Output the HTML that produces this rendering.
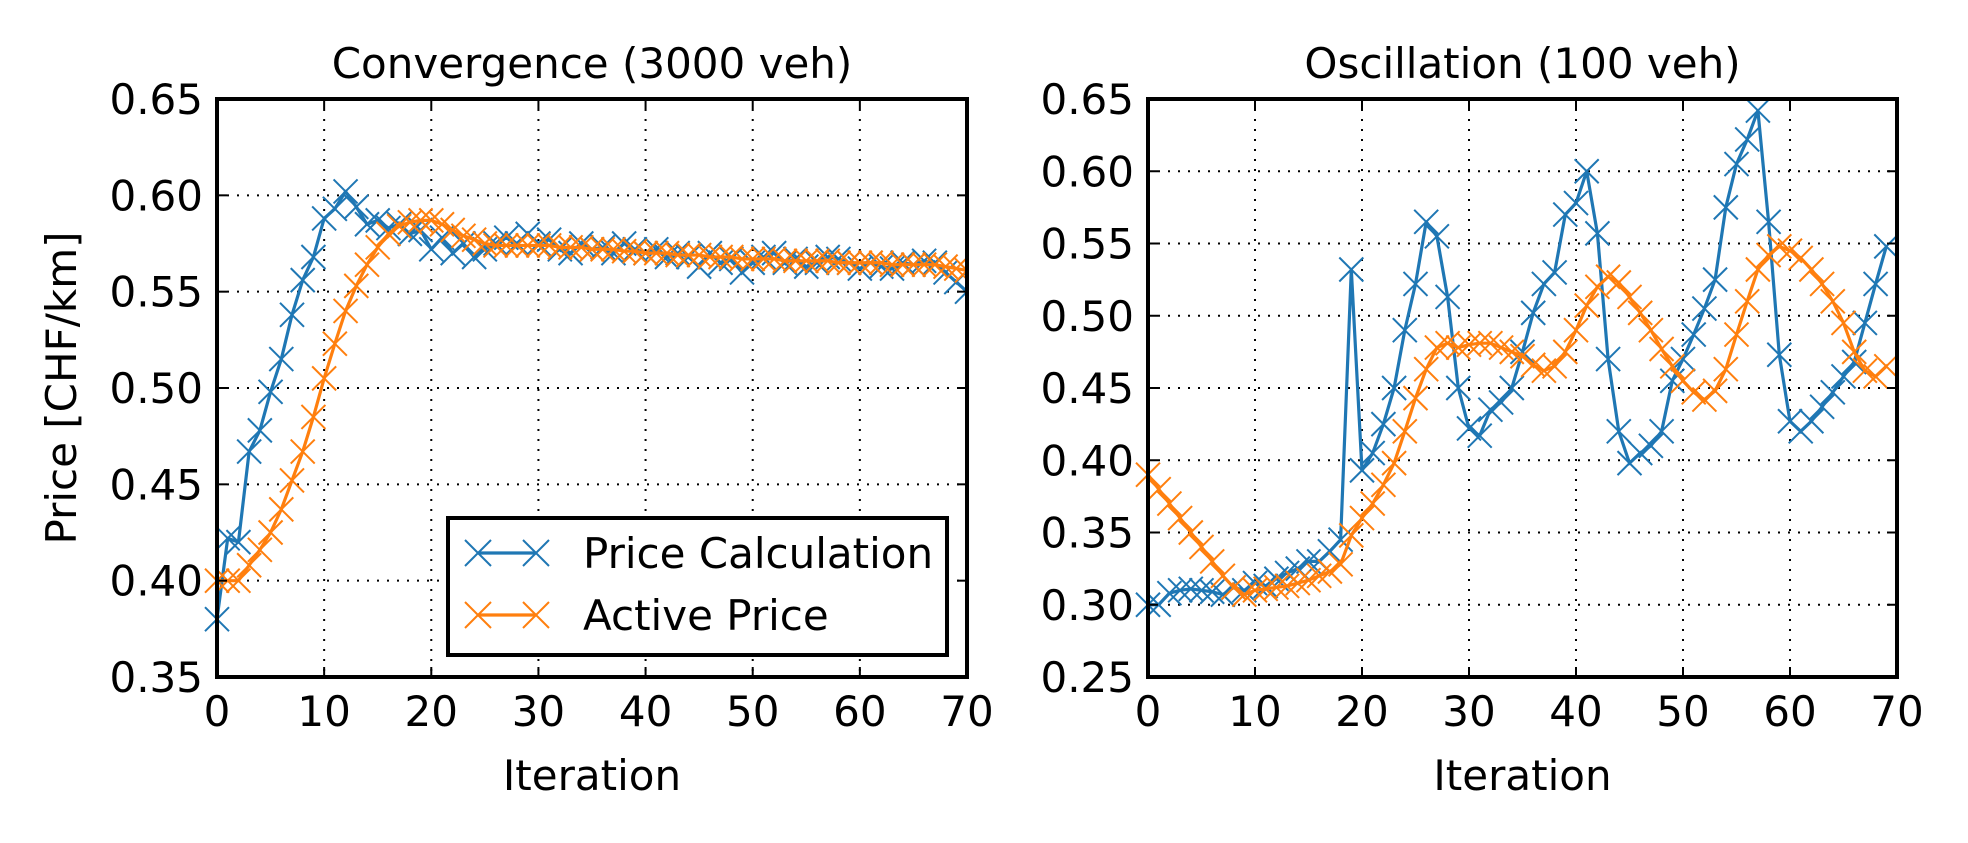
<!DOCTYPE html>
<html><head><meta charset="utf-8"><style>
html,body{margin:0;padding:0;background:#fff;}
svg{display:block;font-family:"DejaVu Sans","Liberation Sans",sans-serif;}
</style></head><body>
<svg id="fig" width="1968" height="843" viewBox="0 0 1968 843" xmlns="http://www.w3.org/2000/svg"></svg>
<script>
const iterations = Array.from({length:71},(_,i)=>i);
const leftCalc = [0.38,0.422,0.42,0.467,0.478,0.498,0.515,0.538,0.556,0.568,0.588,0.593,0.602,0.594,0.585,0.587,0.583,0.585,0.58,0.582,0.572,0.578,0.57,0.575,0.568,0.572,0.575,0.578,0.575,0.58,0.575,0.577,0.572,0.57,0.575,0.572,0.573,0.57,0.575,0.572,0.57,0.572,0.568,0.57,0.568,0.563,0.57,0.565,0.567,0.56,0.565,0.568,0.57,0.565,0.567,0.563,0.565,0.568,0.567,0.565,0.562,0.565,0.563,0.562,0.565,0.564,0.566,0.565,0.56,0.555,0.55];
const leftActive = [0.40,0.40,0.40,0.408,0.416,0.425,0.437,0.452,0.467,0.485,0.505,0.523,0.54,0.553,0.564,0.573,0.58,0.584,0.586,0.587,0.587,0.585,0.582,0.579,0.577,0.575,0.574,0.574,0.574,0.574,0.574,0.574,0.573,0.573,0.573,0.572,0.572,0.572,0.571,0.571,0.570,0.570,0.570,0.569,0.569,0.569,0.568,0.568,0.568,0.567,0.567,0.567,0.567,0.566,0.566,0.566,0.566,0.566,0.565,0.565,0.565,0.565,0.565,0.564,0.564,0.564,0.564,0.564,0.563,0.562,0.561];
const rightCalc = [0.30,0.30,0.308,0.31,0.311,0.31,0.309,0.307,0.312,0.31,0.315,0.313,0.318,0.322,0.325,0.33,0.33,0.337,0.345,0.532,0.393,0.405,0.425,0.45,0.49,0.522,0.565,0.555,0.513,0.45,0.422,0.417,0.435,0.44,0.45,0.475,0.502,0.522,0.53,0.57,0.578,0.60,0.557,0.47,0.42,0.398,0.405,0.41,0.42,0.455,0.47,0.487,0.505,0.525,0.575,0.605,0.622,0.642,0.565,0.473,0.427,0.42,0.427,0.437,0.447,0.458,0.468,0.495,0.522,0.548];
const rightActive = [0.39,0.38,0.37,0.36,0.35,0.34,0.33,0.32,0.312,0.307,0.31,0.311,0.312,0.313,0.315,0.317,0.32,0.323,0.328,0.348,0.36,0.37,0.383,0.398,0.42,0.443,0.463,0.478,0.481,0.478,0.48,0.481,0.481,0.478,0.475,0.472,0.466,0.462,0.465,0.475,0.49,0.507,0.52,0.527,0.523,0.513,0.502,0.49,0.477,0.465,0.455,0.447,0.442,0.448,0.463,0.487,0.51,0.532,0.542,0.548,0.545,0.54,0.532,0.522,0.51,0.495,0.475,0.462,0.458,0.465];
const xTicks = [0,10,20,30,40,50,60,70];
const leftYTicks = [0.35,0.40,0.45,0.50,0.55,0.60,0.65];
const rightYTicks = [0.25,0.30,0.35,0.40,0.45,0.50,0.55,0.60,0.65];
const leftTitle = "Convergence (3000 veh)";
const rightTitle = "Oscillation (100 veh)";

const NS="http://www.w3.org/2000/svg";
const svg=document.getElementById('fig');
function mk(tag,attrs,parent){const e=document.createElementNS(NS,tag);for(const k in attrs)e.setAttribute(k,attrs[k]);(parent||svg).appendChild(e);return e;}
const BLUE="#1f77b4", ORANGE="#ff7f0e";
const FS=42;

function panel(name,L,R,T,B,ymin,ymax,yTicks,title,calc,active){
  const g=mk('g',{});
  
  
  const sx=v=>L+(v-0)*(R-L)/70;
  const sy=v=>B-(v-ymin)*(B-T)/(ymax-ymin);
  xTicks.forEach(t=>{
    if(t>0&&t<70){const l=mk('line',{x1:sx(t),x2:sx(t),y1:T,y2:B,stroke:'#000','stroke-width':2,'stroke-dasharray':'2,8'},g);
    
    }
  });
  yTicks.forEach(t=>{
    const y=sy(t);
    if(Math.abs(t-ymin)>1e-9&&Math.abs(t-ymax)>1e-9){const l=mk('line',{x1:L,x2:R,y1:y,y2:y,stroke:'#000','stroke-width':2,'stroke-dasharray':'2,8'},g);
    
    }
  });
  const cp=mk('clipPath',{id:name+'-clip'},g);
  mk('rect',{x:L-14,y:T-14,width:R-L+14,height:B-T+28},cp);
  const clipG=mk('g',{'clip-path':`url(#${name}-clip)`},g);
  function series(vals,color,sname){
    const sg=mk('g',{},clipG);
    
    
    const pts=vals.map((v,i)=>sx(iterations[i])+','+sy(v)).join(' ');
    mk('polyline',{points:pts,fill:'none',stroke:color,'stroke-width':3.2,'stroke-linejoin':'round'},sg);
    vals.forEach((v,i)=>{
      const x=sx(iterations[i]),y=sy(v),s=12;
      const p=mk('path',{d:`M${x-s},${y-s}L${x+s},${y+s}M${x-s},${y+s}L${x+s},${y-s}`,stroke:color,'stroke-width':2,fill:'none'},sg);
      
      
    });
  }
  series(calc,BLUE,'price-calculation-series');
  series(active,ORANGE,'active-price-series');
  const fr=mk('rect',{x:L,y:T,width:R-L,height:B-T,fill:'none',stroke:'#000','stroke-width':4},g);
  
  
  xTicks.forEach(t=>{
    const x=sx(t);
    mk('line',{x1:x,x2:x,y1:B,y2:B-10,stroke:'#000','stroke-width':2},g);
    mk('line',{x1:x,x2:x,y1:T,y2:T+10,stroke:'#000','stroke-width':2},g);
    const tx=mk('text',{x:x,y:726,'font-size':FS,'text-anchor':'middle'},g);tx.textContent=t;
    
    
  });
  yTicks.forEach(t=>{
    const y=sy(t);
    mk('line',{x1:L,x2:L+10,y1:y,y2:y,stroke:'#000','stroke-width':2},g);
    mk('line',{x1:R,x2:R-10,y1:y,y2:y,stroke:'#000','stroke-width':2},g);
    const tx=mk('text',{x:L-14,y:y+15,'font-size':FS,'text-anchor':'end'},g);tx.textContent=t.toFixed(2);
    
    
  });
  const tt=mk('text',{x:(L+R)/2,y:78,'font-size':FS,'text-anchor':'middle'},g);tt.textContent=title;
  
  
  const xl=mk('text',{x:(L+R)/2,y:790,'font-size':FS,'text-anchor':'middle'},g);xl.textContent='Iteration';
  
  
}
panel('convergence-panel',217,967,99,677,0.35,0.65,leftYTicks,leftTitle,leftCalc,leftActive);
panel('oscillation-panel',1148,1897,99,677,0.25,0.65,rightYTicks,rightTitle,rightCalc,rightActive);

const yl=mk('text',{x:0,y:0,'font-size':FS,'text-anchor':'middle',transform:'translate(76,388) rotate(-90)'});
yl.textContent='Price [CHF/km]';



const lg=mk('g',{});


mk('rect',{x:448,y:518,width:499,height:137,fill:'#fff',stroke:'#000','stroke-width':4},lg);
[[BLUE,'Price Calculation',553],[ORANGE,'Active Price',615]].forEach(([c,label,y])=>{
  const e=mk('g',{},lg);
  
  
  mk('line',{x1:478,x2:536,y1:y,y2:y,stroke:c,'stroke-width':3.2},e);
  [478,536].forEach(x=>mk('path',{d:`M${x-13},${y-13}L${x+13},${y+13}M${x-13},${y+13}L${x+13},${y-13}`,stroke:c,'stroke-width':2},e));
  const t=mk('text',{x:583,y:y+15,'font-size':FS},e);t.textContent=label;
});
</script>
</body></html>
